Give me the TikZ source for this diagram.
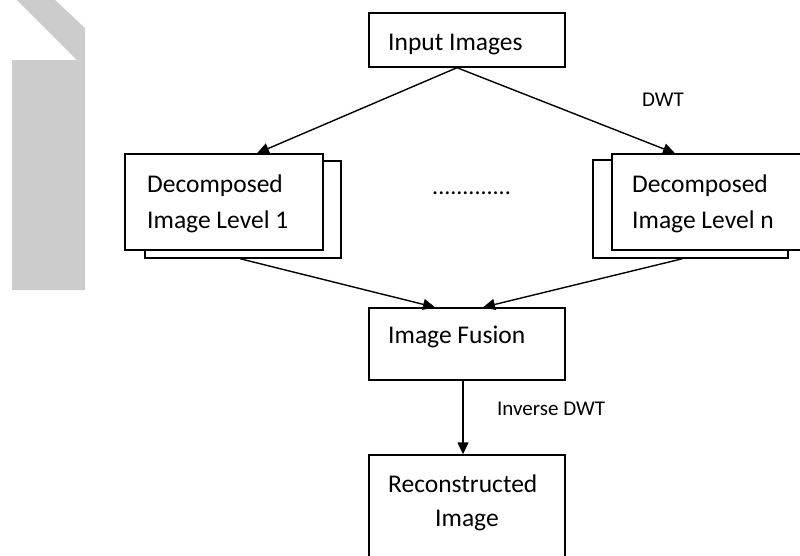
\documentclass[tikz,border=0pt]{standalone}
\usepackage{fontspec}
\setmainfont{Carlito}
\usetikzlibrary{arrows.meta,calc}
\definecolor{bandgray}{RGB}{204,204,204}
\tikzset{
  box/.style={draw=black, line width=1.4pt, fill=white, rectangle, inner sep=0pt},
  boxtext/.style={font=\fontsize{25.5}{30}\selectfont, inner sep=0pt, anchor=base west},
  lbl/.style={font=\fontsize{21}{25}\selectfont, inner sep=0pt, anchor=base west},
  conn/.style={line width=1.4pt, -{Triangle[length=12pt,width=11pt]}}
}
\begin{document}
\begin{tikzpicture}[x=1pt,y=-1pt]
\useasboundingbox (0,0) rectangle (800,555);
\begin{scope}
\clip (0,0) rectangle (800,555);
% gray decorative band
\fill[bandgray] (12,60) -- (77,60) -- (17,0) -- (55,0) -- (85,28) -- (85,290) -- (12,290) -- cycle;

% boxes
\node[box, minimum width=196pt, minimum height=54pt] (in) at (467,40) {};
\node[box, minimum width=196pt, minimum height=97pt] (l1b) at (243,209.5) {};
\node[box, minimum width=198pt, minimum height=96pt] (l1) at (224,202) {};
\node[box, minimum width=195pt, minimum height=98pt] (lnb) at (690.5,209) {};
\node[box, minimum width=198pt, minimum height=96pt] (ln) at (711,202) {};
\node[box, minimum width=196pt, minimum height=72pt] (fus) at (467,344) {};
\node[box, minimum width=196pt, minimum height=120pt] (rec) at (467,515) {};

% texts
\node[boxtext] (tin) at (388,50) {Input Images};
\node[boxtext] (tl1a) at (147,192) {Decomposed};
\node[boxtext] (tl1b) at (147,228) {Image Level 1};
\node[boxtext] (tlna) at (632,192) {Decomposed};
\node[boxtext] (tlnb) at (632,228) {Image Level n};
\node[boxtext] (tfus) at (388,343) {Image Fusion};
\node[boxtext] (treca) at (388,492) {Reconstructed};
\node[boxtext] (trecb) at (435,526) {Image};
\node[font=\fontsize{24}{28}\selectfont, inner sep=0pt, anchor=base west] (dots) at (432,194) {.............};
\node[lbl] (dwt) at (642,106) {DWT};
\node[lbl] (idwt) at (497,415) {Inverse DWT};

% connectors
\draw[conn] ([xshift=-10pt]in.south) -- ([xshift=33pt]l1.north);
\draw[conn] ([xshift=-10pt]in.south) -- ([xshift=-36pt]ln.north);
\draw[conn] ([xshift=-3pt]l1b.south) -- ([xshift=-32pt]fus.north);
\draw[conn] ([xshift=-8pt]lnb.south) -- ([xshift=16pt]fus.north);
\draw[conn] ([xshift=-4pt]fus.south) -- ([xshift=-4pt]rec.north);
\end{scope}
\end{tikzpicture}
\end{document}
